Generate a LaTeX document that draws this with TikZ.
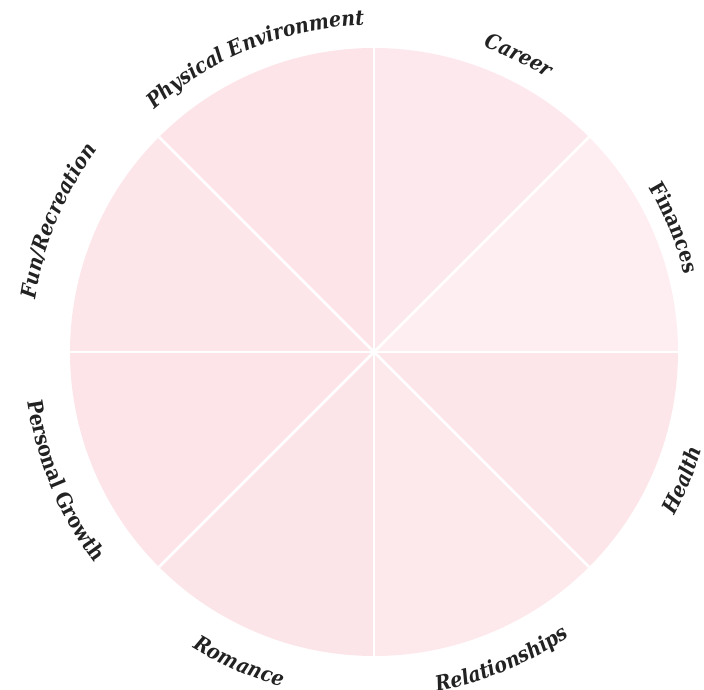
\documentclass[tikz,border=0pt]{standalone}
\usepackage{fontspec}
\setmainfont{DejaVu Serif Condensed}
\usetikzlibrary{decorations.text}
\definecolor{sCareer}{HTML}{FDE9ED}
\definecolor{sFin}{HTML}{FEEEF1}
\definecolor{sHealth}{HTML}{FDE6EA}
\definecolor{sRel}{HTML}{FDE8EC}
\definecolor{sRom}{HTML}{FCE5E9}
\definecolor{sPG}{HTML}{FCE4E8}
\definecolor{sFun}{HTML}{FCE6EA}
\definecolor{sPE}{HTML}{FCE4E9}
\definecolor{labcol}{HTML}{222222}
\newcommand{\labit}{\fontsize{21}{21}\selectfont\bfseries\itshape\color{labcol}}
\newcommand{\labup}{\fontsize{21}{21}\selectfont\bfseries\color{labcol}}
\tikzset{
  spoke/.style={white, line width=2.8pt},
  cwlabel/.style={decorate, decoration={text along path, text align=center, text={#1}}},
}
\begin{document}
\begin{tikzpicture}[x=1pt,y=1pt]
\useasboundingbox (0,0) rectangle (704,689);
\coordinate (C) at (374,337);
\def\R{304}
\begin{scope}[shift={(C)}]
  \fill[sCareer] (0,0) -- (90:\R) arc[start angle=90,end angle=45,radius=\R] -- cycle;
  \fill[sFin] (0,0) -- (45:\R) arc[start angle=45,end angle=0,radius=\R] -- cycle;
  \fill[sHealth] (0,0) -- (0:\R) arc[start angle=0,end angle=-45,radius=\R] -- cycle;
  \fill[sRel] (0,0) -- (-45:\R) arc[start angle=-45,end angle=-90,radius=\R] -- cycle;
  \fill[sRom] (0,0) -- (-90:\R) arc[start angle=-90,end angle=-135,radius=\R] -- cycle;
  \fill[sPG] (0,0) -- (-135:\R) arc[start angle=-135,end angle=-180,radius=\R] -- cycle;
  \fill[sFun] (0,0) -- (180:\R) arc[start angle=180,end angle=135,radius=\R] -- cycle;
  \fill[sPE] (0,0) -- (135:\R) arc[start angle=135,end angle=90,radius=\R] -- cycle;
  \foreach \a in {0,45,...,315} { \draw[spoke] (0,0) -- (\a:\R); }
  % top labels: clockwise, baseline inside
  \path[cwlabel={|\labit|Physical Environment}] (152:327) arc[start angle=152,end angle=72,radius=327];
  \path[cwlabel={|\labit|Career}] (104:324) arc[start angle=104,end angle=24,radius=324];
  \path[cwlabel={|\labup|Finances}] (62.5:320) arc[start angle=62.5,end angle=-17.5,radius=320];
  \path[cwlabel={|\labit|Fun/Recreation}] (197.5:343) arc[start angle=197.5,end angle=117.5,radius=343];
  % bottom labels: counterclockwise, baseline outside
  \path[cwlabel={|\labit|Health}] (-62.5:342) arc[start angle=-62.5,end angle=17.5,radius=342];
  \path[cwlabel={|\labit|Relationships}] (-107.5:345) arc[start angle=-107.5,end angle=-27.5,radius=345];
  \path[cwlabel={|\labit|Romance}] (-153.5:347) arc[start angle=-153.5,end angle=-73.5,radius=347];
  \path[cwlabel={|\labup|Personal Growth}] (-197.5:350) arc[start angle=-197.5,end angle=-117.5,radius=350];
\end{scope}
\end{tikzpicture}
\end{document}
